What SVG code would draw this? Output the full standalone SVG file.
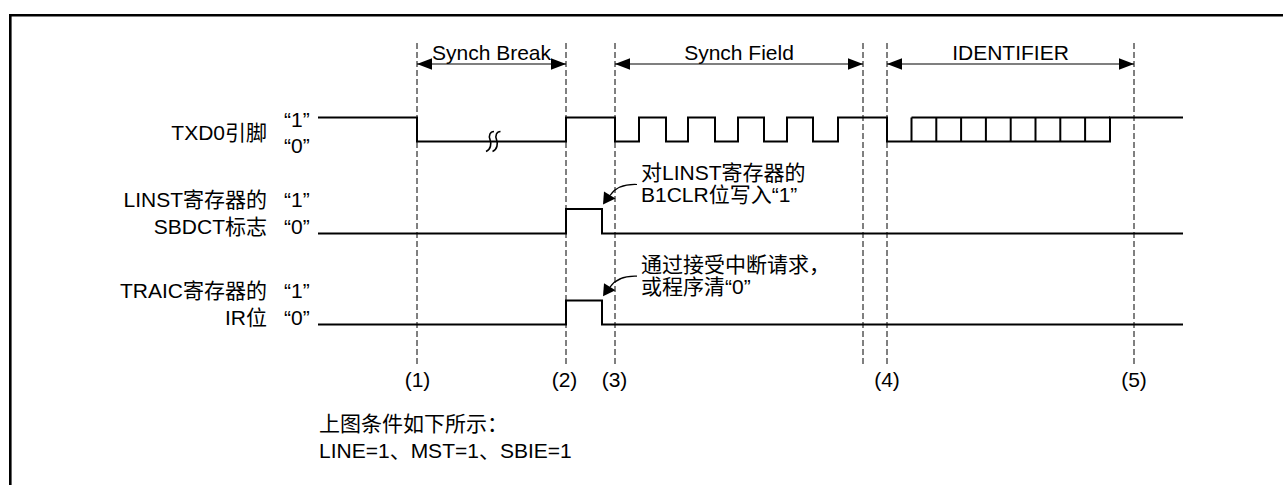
<svg xmlns="http://www.w3.org/2000/svg" width="1283" height="485" viewBox="0 0 1283 485">
<style>
.t{font-family:"Liberation Sans","Noto Sans CJK SC",sans-serif;font-size:21px;fill:#000}
.e{text-anchor:end}
.m{text-anchor:middle}
.sig{fill:none;stroke:#000;stroke-width:2}
.dash{fill:none;stroke:#000;stroke-width:1;stroke-dasharray:6 3}
.dim{fill:none;stroke:#000;stroke-width:1.2;marker-start:url(#ah);marker-end:url(#ah)}
.cv{fill:none;stroke:#000;stroke-width:1.2}
.bk{fill:none;stroke:#000;stroke-width:1.6}
.frame{fill:none;stroke:#000;stroke-width:2.6}
</style>
<defs>
<marker id="ah" viewBox="0 0 15 11.4" refX="15" refY="5.7" markerWidth="15" markerHeight="11.4" markerUnits="userSpaceOnUse" orient="auto-start-reverse">
<path d="M0,0 L15,5.7 L0,11.4 z" fill="#000"/>
</marker>
<g id="callout">
<path class="cv" d="M637,184.5 C624,184 615,188 610,195.5"/>
<path d="M603,204.5 L604,191.5 L615.5,198.5 z" fill="#000"/>
</g>
<path id="brk" class="bk" d="M4,-10 C0,-10 -1.5,-6 0,-2 C1.5,2 1,8 -4,10"/>
</defs>

<g id="frame">
<path class="frame" d="M10.3,485 V15.3 H1283"/>
</g>

<g id="guides">
<line class="dash" x1="417" y1="43" x2="417" y2="367"/>
<line class="dash" x1="566" y1="43" x2="566" y2="367"/>
<line class="dash" x1="615" y1="43" x2="615" y2="367"/>
<line class="dash" x1="863" y1="43" x2="863" y2="367"/>
<line class="dash" x1="887" y1="43" x2="887" y2="367"/>
<line class="dash" x1="1134" y1="43" x2="1134" y2="367"/>
</g>

<g id="connectors">
<line class="dim" x1="417" y1="64" x2="566" y2="64"/>
<line class="dim" x1="615" y1="64" x2="863" y2="64"/>
<line class="dim" x1="887" y1="64" x2="1134" y2="64"/>
<use href="#callout"/>
<use href="#callout" transform="translate(0,91.7)"/>
</g>

<g id="field-labels">
<text class="t m" x="491.5" y="59.5">Synch Break</text>
<text class="t m" x="739" y="59.5">Synch Field</text>
<text class="t m" x="1010.5" y="59.5">IDENTIFIER</text>
</g>

<g id="txd0">
<text class="t e" x="267" y="139.5">TXD0引脚</text>
<text class="t" x="284" y="127">“1”</text>
<text class="t" x="284" y="153">“0”</text>
<path class="sig" d="M318,117.5 H417 V141.5 H566 V117.5 H615 V141.5 H639 V117.5 H666 V141.5 H688 V117.5 H715 V141.5 H738 V117.5 H764 V141.5 H787 V117.5 H813 V141.5 H838 V117.5 H887 V141.5 H1110 V117.5 H1183"/>
<path class="sig" d="M911.5,117.5 H1110 M911.5,117.5 V141.5 M936.3,117.5 V141.5 M961.1,117.5 V141.5 M985.9,117.5 V141.5 M1010.7,117.5 V141.5 M1035.5,117.5 V141.5 M1060.3,117.5 V141.5 M1085.1,117.5 V141.5"/>
<use href="#brk" transform="translate(490,141.5)"/>
<use href="#brk" transform="translate(496.5,141.5)"/>
</g>

<g id="sbdct">
<text class="t e" x="267" y="207">LINST寄存器的</text>
<text class="t" x="284" y="207">“1”</text>
<text class="t e" x="267" y="233.5">SBDCT标志</text>
<text class="t" x="284" y="233.5">“0”</text>
<path class="sig" d="M318,233.5 H566 V209 H602 V233.5 H1183"/>
</g>

<g id="ir">
<text class="t e" x="267" y="298">TRAIC寄存器的</text>
<text class="t" x="284" y="298">“1”</text>
<text class="t e" x="267" y="325">IR位</text>
<text class="t" x="284" y="325">“0”</text>
<path class="sig" d="M318,324.5 H566 V300.5 H602 V324.5 H1183"/>
</g>

<g id="note-b1clr">
<text class="t" x="641" y="180">对LINST寄存器的</text>
<text class="t" x="641" y="202">B1CLR位写入“1”</text>
</g>

<g id="note-ir">
<text class="t" x="641" y="272">通过接受中断请求，</text>
<text class="t" x="641" y="294">或程序清“0”</text>
</g>

<g id="points">
<text class="t m" x="417.5" y="387">(1)</text>
<text class="t m" x="564.5" y="387">(2)</text>
<text class="t m" x="614.5" y="387">(3)</text>
<text class="t m" x="887" y="387">(4)</text>
<text class="t m" x="1134" y="387">(5)</text>
</g>

<g id="conditions">
<text class="t" x="319" y="431">上图条件如下所示：</text>
<text class="t" x="319" y="458">LINE=1、MST=1、SBIE=1</text>
</g>
</svg>
